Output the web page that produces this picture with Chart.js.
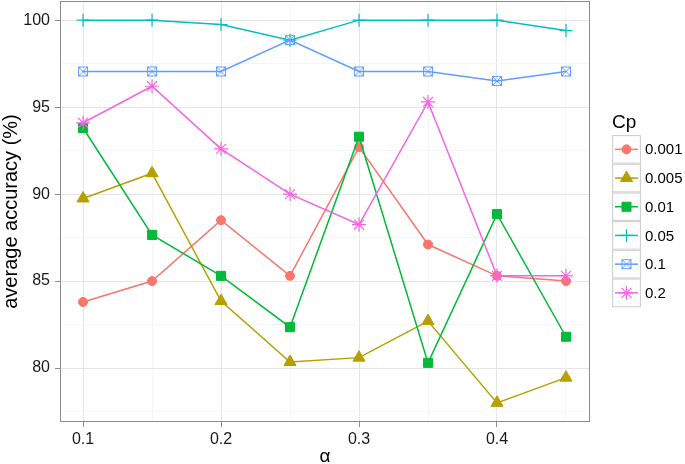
<!DOCTYPE html>
<html>
<head>
<meta charset="utf-8">
<script src="https://cdn.jsdelivr.net/npm/chart.js@4.4.1/dist/chart.umd.min.js"></script>
<style>
    body { margin: 0; background: #fff; }
</style>
</head>
<body>
<canvas id="myChart" width="685" height="464"></canvas>
<script>
// x values (alpha)
const alphas = [0.1, 0.15, 0.2, 0.25, 0.3, 0.35, 0.4, 0.45];
// one series per Cp value
const cpLabels = ['0.001', '0.005', '0.01', '0.05', '0.1', '0.2'];
const cp0001 = [83.8, 85.0, 88.5, 85.3, 92.7, 87.1, 85.3, 85.0];
const cp0005 = [89.75, 91.2, 83.85, 80.35, 80.6, 82.7, 78.0, 79.45];
const cp001 = [93.8, 87.65, 85.3, 82.35, 93.3, 80.3, 88.85, 81.8];
const cp005 = [100, 100, 99.75, 98.85, 100, 100, 100, 99.4];
const cp01 = [97.05, 97.05, 97.05, 98.85, 97.05, 97.05, 96.5, 97.05];
const cp02 = [94.1, 96.2, 92.6, 90.0, 88.25, 95.3, 85.3, 85.3];
// ticks
const xMajor = [0.1, 0.2, 0.3, 0.4];
const xGrid = [0.1, 0.15, 0.2, 0.25, 0.3, 0.35, 0.4, 0.45];
const yMajor = [80, 85, 90, 95, 100];
const yGrid = [77.5, 80, 82.5, 85, 87.5, 90, 92.5, 95, 97.5, 100];

const colors = ['#F8766D', '#B79F00', '#00BA38', '#00BFC4', '#619CFF', '#F564E3'];

// square with an X for Cp = 0.1
function boxCross(color) {
    const c = document.createElement('canvas');
    c.width = 12; c.height = 12;
    const g = c.getContext('2d');
    g.strokeStyle = color;
    g.lineWidth = 1;
    g.strokeRect(1.5, 1.5, 9, 9);
    g.beginPath();
    g.moveTo(1.5, 1.5); g.lineTo(10.5, 10.5);
    g.moveTo(10.5, 1.5); g.lineTo(1.5, 10.5);
    g.stroke();
    return c;
}

const isIn = (list, v) => list.some(m => Math.abs(m - v) < 1e-6);

const allSeries = [cp0001, cp0005, cp001, cp005, cp01, cp02];
const styles = [
    {pointStyle: 'circle', pointRadius: 4.5, pointBorderWidth: 1},
    {pointStyle: 'triangle', pointRadius: 7, pointBorderWidth: 1},
    {pointStyle: 'rect', pointRadius: 6.4, pointBorderWidth: 1},
    {pointStyle: 'cross', pointRadius: 6.5, pointBorderWidth: 1.2},
    {pointStyle: boxCross('#619CFF'), pointRadius: 6, pointBorderWidth: 1},
    {pointStyle: 'star', pointRadius: 7, pointBorderWidth: 1.2}
];

const datasets = allSeries.map((vals, i) => Object.assign({
    label: cpLabels[i],
    data: vals.map((v, j) => ({x: alphas[j], y: v})),
    borderColor: colors[i],
    backgroundColor: colors[i],
    pointBorderColor: colors[i],
    pointBackgroundColor: colors[i],
    borderWidth: 1.5,
    order: 5 - i
}, styles[i]));

const panelBorder = {
    id: 'panelBorder',
    afterDatasetsDraw(chart) {
        const a = chart.chartArea, ctx = chart.ctx;
        ctx.save();
        ctx.strokeStyle = '#8a8a8a';
        ctx.lineWidth = 1;
        ctx.strokeRect(a.left + 0.5, a.top + 0.5, a.right - a.left - 1, a.bottom - a.top - 1);
        ctx.restore();
    }
};

// ggplot-like legend at the right
const sideLegend = {
    id: 'sideLegend',
    afterDraw(chart) {
        const ctx = chart.ctx;
        const x0 = 612, y0 = 135, w = 29, h = 28.7;
        ctx.save();
        ctx.fillStyle = '#000';
        ctx.font = '19px "Liberation Sans", Arial, sans-serif';
        ctx.textBaseline = 'alphabetic';
        ctx.fillText('Cp', 612, 128);
        chart.data.datasets.forEach((ds, i) => {
            const top = y0 + i * h;
            ctx.fillStyle = '#f2f2f2';
            ctx.fillRect(x0, top, w, h);
            ctx.strokeStyle = '#d0d0d0';
            ctx.lineWidth = 1;
            ctx.strokeRect(x0 + 0.5, top + 0.5, w - 1, h - 1);
            ctx.fillStyle = '#fff';
            ctx.fillRect(x0 + 1.5, top + 1.5, w - 3, h - 3);
            const cy = top + h / 2, cx = x0 + w / 2;
            ctx.strokeStyle = ds.borderColor;
            ctx.lineWidth = 1.5;
            ctx.beginPath();
            ctx.moveTo(x0 + 3, cy);
            ctx.lineTo(x0 + w - 3, cy);
            ctx.stroke();
            ctx.fillStyle = ds.backgroundColor;
            ctx.lineWidth = ds.pointBorderWidth;
            Chart.helpers.drawPoint(ctx, {pointStyle: ds.pointStyle, radius: ds.pointRadius, rotation: 0, borderWidth: ds.pointBorderWidth}, cx, cy);
            ctx.fillStyle = '#000';
            ctx.font = '15px "Liberation Sans", Arial, sans-serif';
            ctx.textBaseline = 'middle';
            ctx.fillText(ds.label, x0 + w + 4, cy + 1);
        });
        ctx.restore();
    }
};

const ctx = document.getElementById('myChart');
const myChart = new Chart(ctx, {
    type: 'line',
    data: {datasets: datasets},
    options: {
        responsive: false,
        animation: false,
        devicePixelRatio: 1,
        layout: {autoPadding: false, padding: {top: 1, right: 95, left: 0, bottom: 0}},
        plugins: {legend: {display: false}, tooltip: {enabled: false}},
        scales: {
            x: {
                type: 'linear',
                min: 0.0833,
                max: 0.4674,
                afterBuildTicks: scale => { scale.ticks = xGrid.map(v => ({value: v})); },
                afterFit: scale => {
                    scale.height = 42;
                    scale.paddingLeft = 0; scale.paddingRight = 0;
                },
                border: {display: false},
                grid: {
                    color: c => isIn(xMajor, c.tick.value) ? '#e5e5e5' : '#f5f5f5',
                    tickColor: c => isIn(xMajor, c.tick.value) ? '#8a8a8a' : 'rgba(0,0,0,0)',
                    tickLength: 5
                },
                ticks: {
                    autoSkip: false,
                    maxRotation: 0,
                    padding: 3,
                    color: '#1a1a1a',
                    font: {family: 'Liberation Sans', size: 16},
                    callback: v => isIn(xMajor, v) ? String(Math.round(v * 10) / 10) : ''
                },
                title: {
                    display: true,
                    text: 'α',
                    color: '#000',
                    font: {family: 'Liberation Sans', size: 19, lineHeight: 0.8},
                    padding: {top: 0, bottom: 0}
                }
            },
            y: {
                min: 76.9,
                max: 101.1,
                afterBuildTicks: scale => { scale.ticks = yGrid.map(v => ({value: v})); },
                afterFit: scale => {
                    scale.width = 60;
                    scale.paddingTop = 0; scale.paddingBottom = 0;
                },
                border: {display: false},
                grid: {
                    color: c => isIn(yMajor, c.tick.value) ? '#e5e5e5' : '#f5f5f5',
                    tickColor: c => isIn(yMajor, c.tick.value) ? '#8a8a8a' : 'rgba(0,0,0,0)',
                    tickLength: 5
                },
                ticks: {
                    autoSkip: false,
                    padding: 5,
                    color: '#1a1a1a',
                    font: {family: 'Liberation Sans', size: 16},
                    callback: v => isIn(yMajor, v) ? String(v) : ''
                },
                title: {
                    display: true,
                    text: 'average accuracy (%)',
                    color: '#000',
                    font: {family: 'Liberation Sans', size: 20, lineHeight: 1.0},
                    padding: {top: 1.5, bottom: 0}
                }
            }
        }
    },
    plugins: [panelBorder, sideLegend]
});
</script>
</body>
</html>
